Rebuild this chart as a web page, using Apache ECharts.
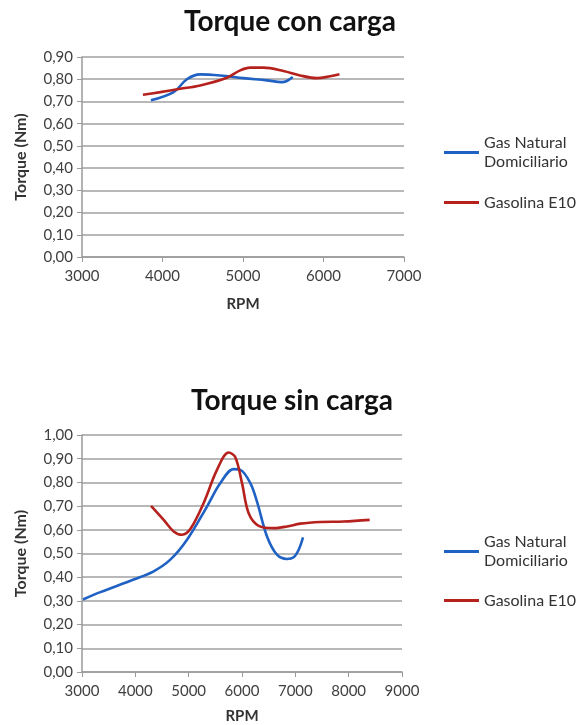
<!DOCTYPE html>
<html>
<head>
<meta charset="utf-8">
<script src="https://cdn.jsdelivr.net/npm/echarts@6/dist/echarts.min.js"></script>
<style>
  html, body { margin: 0; padding: 0; background: #ffffff; }
  #chart { width: 580px; height: 725px; }
</style>
</head>
<body>
<div id="chart"></div>
<script>
  // Torque con carga
  var conGasRpm = [3856, 4138, 4303, 4468, 4717, 5006, 5296, 5482, 5544, 5618];
  var conGasTorque = [0.705, 0.742, 0.800, 0.822, 0.817, 0.805, 0.795, 0.787, 0.792, 0.810];
  var conE10Rpm = [3757, 3972, 4220, 4468, 4799, 4965, 5089, 5254, 5503, 5709, 5916, 6082, 6198];
  var conE10Torque = [0.730, 0.742, 0.757, 0.772, 0.807, 0.840, 0.852, 0.852, 0.837, 0.817, 0.805, 0.813, 0.822];

  // Torque sin carga
  var sinGasRpm = [3019, 3344, 3969, 4344, 4656, 4969, 5344, 5594, 5844, 5969, 6156, 6281, 6469, 6656, 6844, 6969, 7063, 7144];
  var sinGasTorque = [0.306, 0.337, 0.390, 0.425, 0.474, 0.558, 0.698, 0.797, 0.856, 0.853, 0.797, 0.719, 0.572, 0.495, 0.477, 0.484, 0.516, 0.568];
  var sinE10Rpm = [4294, 4531, 4719, 4875, 5031, 5281, 5531, 5750, 5875, 6000, 6125, 6313, 6594, 6844, 7094, 7469, 7906, 8394];
  var sinE10Torque = [0.701, 0.642, 0.593, 0.579, 0.603, 0.713, 0.853, 0.926, 0.906, 0.797, 0.670, 0.617, 0.607, 0.614, 0.626, 0.633, 0.635, 0.642];

  var titles = ['Torque con carga', 'Torque sin carga'];
  var seriesNames = ['Gas Natural Domiciliario', 'Gasolina E10'];
  var xMax = [7000, 9000];
  var yMax = [0.9, 1.0];

  var blue = '#1f62c4';
  var red = '#b5211c';
  var font = 'Lato, "Open Sans", sans-serif';

  function pairs(xs, ys) {
    return xs.map(function (x, i) { return [x, ys[i]]; });
  }

  var grids = [
    { left: 82, width: 322, top: 57, height: 200 },
    { left: 82, width: 320, top: 435, height: 238 }
  ];

  var xAxes = [0, 1].map(function (i) {
    return {
      type: 'value',
      gridIndex: i,
      min: 3000,
      max: xMax[i],
      interval: 1000,
      name: 'RPM',
      nameLocation: 'middle',
      nameGap: i === 0 ? 40 : 37,
      nameTextStyle: { fontFamily: font, fontWeight: 'bold', fontSize: 15, color: '#333' },
      axisLine: { show: true, lineStyle: { color: '#9a9a9a', width: 1.5 } },
      axisTick: { show: true, inside: false, length: 5, lineStyle: { color: '#9a9a9a' } },
      axisLabel: {
        fontFamily: font, fontSize: 15, color: '#404040', margin: 12,
        formatter: function (v) { return String(v); }
      },
      splitLine: { show: false }
    };
  });

  var yAxes = [0, 1].map(function (i) {
    return {
      type: 'value',
      gridIndex: i,
      min: 0,
      max: yMax[i],
      interval: 0.1,
      name: 'Torque (Nm)',
      nameLocation: 'middle',
      nameGap: 53,
      nameTextStyle: { fontFamily: font, fontWeight: 'bold', fontSize: 16, color: '#333' },
      axisLine: { show: true, lineStyle: { color: '#9a9a9a', width: 1.5 } },
      axisTick: { show: true, inside: false, length: 5, lineStyle: { color: '#9a9a9a' } },
      axisLabel: {
        fontFamily: font, fontSize: 15, color: '#404040', margin: 9,
        formatter: function (v) { return v.toFixed(2).replace('.', ','); }
      },
      splitLine: { show: true, lineStyle: { color: '#a0a0a0', width: 1.5 } }
    };
  });

  function line(name, color, idx, data) {
    return {
      type: 'line',
      name: name,
      xAxisIndex: idx,
      yAxisIndex: idx,
      data: data,
      smooth: 0.35,
      symbol: 'none',
      lineStyle: { color: color, width: 2.6 },
      itemStyle: { color: color }
    };
  }

  var series = [
    line(seriesNames[0], blue, 0, pairs(conGasRpm, conGasTorque)),
    line(seriesNames[1], red, 0, pairs(conE10Rpm, conE10Torque)),
    line(seriesNames[0], blue, 1, pairs(sinGasRpm, sinGasTorque)),
    line(seriesNames[1], red, 1, pairs(sinE10Rpm, sinE10Torque))
  ];

  // leyendas: la primera lleva el nombre en dos líneas
  function legendGas(top) {
    return {
      data: [seriesNames[0]],
      left: 444, top: top, padding: 0,
      icon: 'rect', itemWidth: 35, itemHeight: 3,
      formatter: function () { return 'Gas Natural\nDomiciliario'; },
      textStyle: { fontFamily: font, fontSize: 16, color: '#333', lineHeight: 19, padding: [19, 0, 0, 0] }
    };
  }
  function legendE10(top) {
    return {
      data: [seriesNames[1]],
      left: 444, top: top, padding: 0,
      icon: 'rect', itemWidth: 35, itemHeight: 3,
      textStyle: { fontFamily: font, fontSize: 16, color: '#333', lineHeight: 19 }
    };
  }

  var chart = echarts.init(document.getElementById('chart'));
  chart.setOption({
    backgroundColor: '#ffffff',
    animation: false,
    title: [
      { text: titles[0], left: 285, top: 3, textAlign: 'center',
        textStyle: { fontFamily: font, fontSize: 28, fontWeight: 'bold', color: '#111' } },
      { text: titles[1], left: 287, top: 382, textAlign: 'center',
        textStyle: { fontFamily: font, fontSize: 28, fontWeight: 'bold', color: '#111' } }
    ],
    legend: [legendGas(124), legendE10(193), legendGas(523), legendE10(591)],
    grid: grids,
    xAxis: xAxes,
    yAxis: yAxes,
    series: series
  });
</script>
</body>
</html>
